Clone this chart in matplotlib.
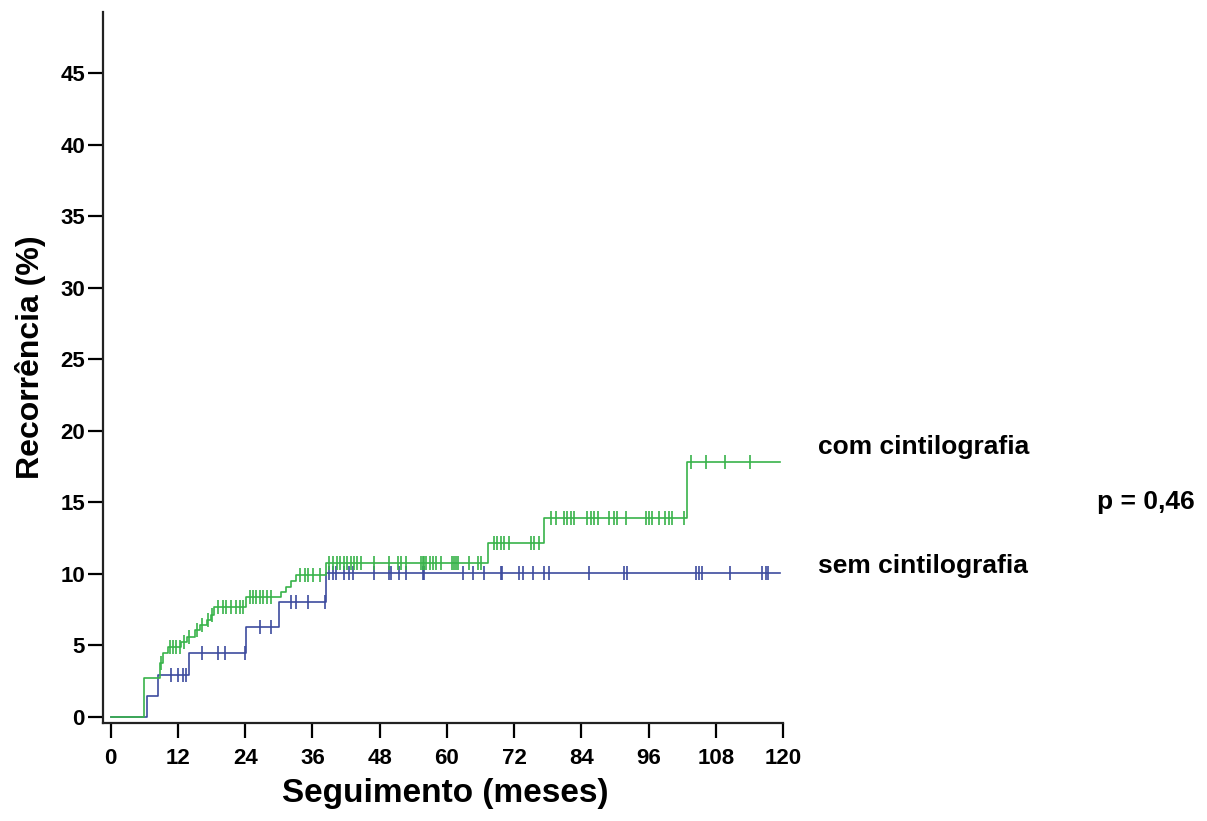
import numpy as np
import matplotlib
matplotlib.use("Agg")
import matplotlib.pyplot as plt

# step functions: event times (months) and cumulative recurrence (%) after each step
com_times = [0, 6.0, 8.7, 9.3, 10.2, 12.6, 13.6, 15.0, 15.9, 17.1, 17.9, 18.5, 24.2,
             30.4, 31.3, 32.2, 33.1, 38.4, 67.3, 77.4, 102.8]
com_levels = [0, 2.7, 3.76, 4.46, 4.92, 5.27, 5.62, 6.09, 6.44, 6.79, 7.14, 7.72, 8.42,
              8.77, 9.12, 9.5, 9.94, 10.76, 12.15, 13.9, 17.8]
com_censor = [9.0, 10.5, 11.1, 11.7, 12.3, 13.0, 13.9, 15.4, 16.2, 17.3, 18.0,
              19.1, 20.0, 20.6, 21.5, 22.4, 23.0, 23.6,
              24.8, 25.4, 26.0, 26.6, 27.1, 27.8, 28.6,
              33.7, 34.6, 35.2, 36.1, 37.3,
              39.0, 39.6, 40.3, 41.0, 41.6, 42.2, 42.8, 43.4, 44.0, 44.6, 47.0, 49.7,
              51.2, 51.8, 52.7, 55.4, 55.7, 56.0, 56.3, 56.9, 57.5, 58.1, 59.0, 61.0,
              61.3, 61.6, 61.9, 64.0, 65.5, 66.1,
              68.4, 69.0, 69.6, 70.2, 71.1, 75.0, 75.6, 76.5,
              78.6, 79.4, 80.9, 81.5, 82.1, 82.7, 85.1, 85.7, 86.3, 86.9, 88.9, 89.8,
              90.4, 91.9, 95.5, 96.1, 96.7, 97.9, 99.0, 99.6, 100.2, 102.3,
              103.5, 106.2, 109.7, 114.2]
com_end = 119.5

sem_times = [0, 6.4, 8.4, 14.0, 24.2, 30.1, 38.5]
sem_levels = [0, 1.45, 2.94, 4.46, 6.28, 8.07, 10.06]
sem_censor = [10.8, 12.0, 12.9, 13.5, 16.2, 19.1, 20.3, 24.0, 26.6, 28.6,
              32.2, 33.1, 35.2, 38.3, 39.0, 39.6, 40.2, 41.7, 42.6, 43.2, 47.0,
              49.7, 50.0, 51.5, 52.7, 55.7, 55.9, 62.8, 64.6, 66.7, 69.6, 69.9,
              72.9, 73.5, 75.3, 77.4, 78.3, 85.4, 91.6, 92.2, 104.4, 105.0, 105.6,
              110.6, 116.3, 116.9, 117.3]
sem_end = 119.5

x_ticks = list(range(0, 121, 12))
y_ticks = list(range(0, 46, 5))

GREEN = "#38b34a"
BLUE = "#3d4b9e"


def draw_curve(ax, times, levels, censor, end, color):
    t = list(times) + [end]
    y = list(levels) + [levels[-1]]
    ax.step(t, y, where="post", color=color, lw=1.2, zorder=3)
    idx = np.searchsorted(times, censor, side="right") - 1
    cy = np.asarray(levels)[idx]
    ax.plot(censor, cy, ls="none", marker="|", ms=10, mew=1.2, color=color, zorder=4)


plt.rcParams["font.family"] = ["Liberation Sans", "DejaVu Sans"]
plt.rcParams["font.weight"] = "bold"

fig = plt.figure(figsize=(12.07, 8.21), dpi=100)
ax = fig.add_axes([0.0853, 0.1194, 0.5634, 0.866])

draw_curve(ax, sem_times, sem_levels, sem_censor, sem_end, BLUE)
draw_curve(ax, com_times, com_levels, com_censor, com_end, GREEN)

ax.set_xlim(-1.4, 120)
ax.set_ylim(-0.42, 49.3)
ax.set_xticks(x_ticks)
ax.set_yticks(y_ticks)
ax.tick_params(direction="out", length=11, width=1.6, labelsize=16)
ax.tick_params(axis="x", pad=7)
ax.tick_params(axis="y", pad=2)
for lab in ax.get_xticklabels() + ax.get_yticklabels():
    lab.set_fontweight("bold")
for side in ("top", "right"):
    ax.spines[side].set_visible(False)
for side in ("left", "bottom"):
    ax.spines[side].set_linewidth(1.6)
    ax.spines[side].set_color("#222222")

ax.set_xlabel("Seguimento (meses)", fontsize=24, fontweight="bold")
ax.set_ylabel("Recorrência (%)", fontsize=23, fontweight="bold")
ax.xaxis.set_label_coords(0.503, -0.0774)
ax.yaxis.set_label_coords(-0.084, 0.515)

fig.text(818 / 1207, 1 - 447 / 821, "com cintilografia", fontsize=19,
         fontweight="bold", va="center", ha="left")
fig.text(818 / 1207, 1 - 566 / 821, "sem cintilografia", fontsize=19,
         fontweight="bold", va="center", ha="left")
fig.text(1097 / 1207, 1 - 502 / 821, "p = 0,46", fontsize=19,
         fontweight="bold", va="center", ha="left")

fig.savefig("out.png", dpi=100)
